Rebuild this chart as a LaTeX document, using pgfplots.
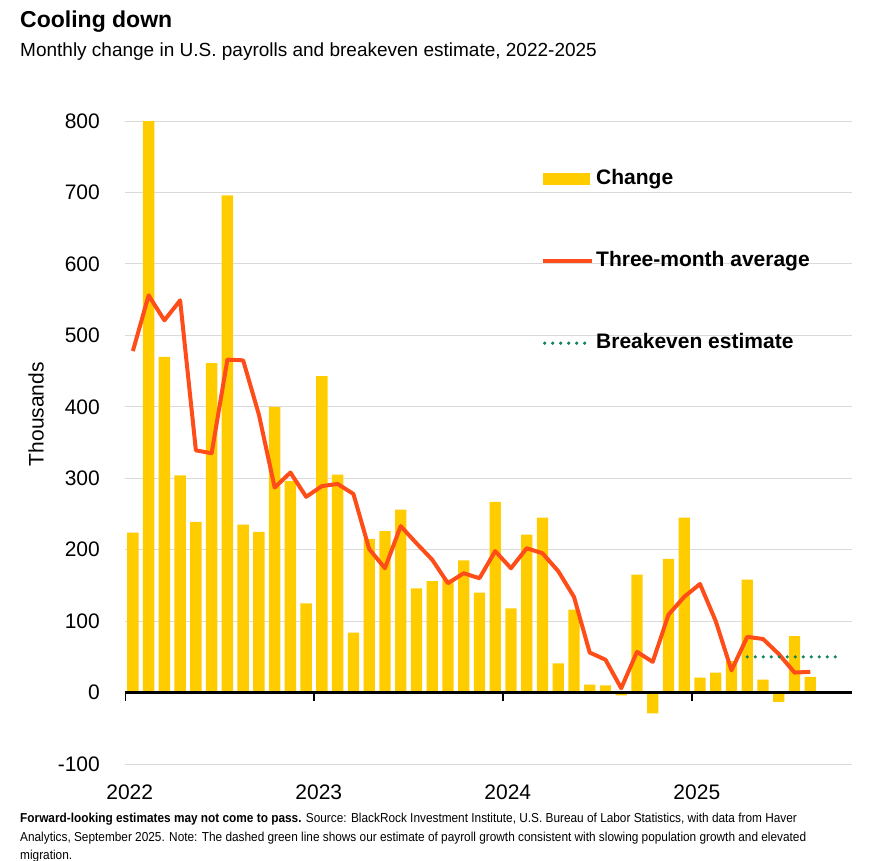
\documentclass[border=0pt]{standalone}
\usepackage{pgfplots}
\pgfplotsset{compat=1.18}
\usepackage{fontspec}
\setmainfont{Liberation Sans}
\newfontfamily\narrowfont[FakeStretch=0.91]{Liberation Sans}

\definecolor{barY}{RGB}{255,204,0}
\definecolor{lineO}{RGB}{255,77,26}
\definecolor{dotG}{RGB}{16,133,92}
\definecolor{gridG}{RGB}{218,218,218}

\begin{document}
\begin{tikzpicture}
\path[use as bounding box] (0,0) rectangle (871bp,-861bp);

% titles
\node[anchor=base west, inner sep=0pt, font=\bfseries\fontsize{23bp}{23bp}\selectfont] at (20bp,-27.5bp) {Cooling down};
\node[anchor=base west, inner sep=0pt, font=\fontsize{19bp}{19bp}\selectfont] at (20bp,-56.5bp) {Monthly change in U.S. payrolls and breakeven estimate, 2022-2025};

\begin{axis}[
    at={(125bp,-764bp)}, anchor=south west,
    scale only axis,
    width=727bp, height=643bp,
    xmin=-0.5, xmax=45.65,
    ymin=-100, ymax=800,
    ytick distance=100,
    xtick={-0.2,11.8,23.8,35.8},
    xticklabels={2022,2023,2024,2025},
    axis line style={draw=none},
    tick style={draw=none},
    ymajorgrids=true,
    grid style={gridG, line width=1bp},
    /pgf/number format/assume math mode=true,
    ticklabel style={font=\fontsize{21bp}{21bp}\selectfont, inner sep=0pt},
    yticklabel style={anchor=east, xshift=-25bp},
    xticklabel style={anchor=north, yshift=-21bp},
    ylabel={Thousands},
    ylabel style={font=\fontsize{21bp}{21bp}\selectfont, at={(axis description cs:-0.1224,0.544)}, anchor=center, inner sep=0pt},
    legend style={
        at={(rel axis cs:0.5722,0.9253)}, anchor=north west,
        draw=none, fill=none, inner sep=0pt,
        row sep=62bp, column sep=2bp,
        font=\bfseries\fontsize{21bp}{21bp}\selectfont,
        nodes={text height=15bp, text depth=5bp, inner sep=0pt},
    },
    legend cell align={left},
]

% monthly change, Jan 2022 = 0
\addplot[ybar, bar width=0.72, fill=barY, draw=none,
    legend image code/.code={\fill[barY] (0bp,-6bp) rectangle (47bp,6bp);}]
coordinates {
    (0,224) (1,800) (2,470) (3,304) (4,239) (5,461) (6,696) (7,235)
    (8,225) (9,400) (10,296) (11,125) (12,443) (13,305) (14,84) (15,215)
    (16,226) (17,256) (18,146) (19,156) (20,158) (21,185) (22,140) (23,267)
    (24,118) (25,221) (26,245) (27,41) (28,116) (29,11) (30,10) (31,-4)
    (32,165) (33,-29) (34,187) (35,245) (36,21) (37,28) (38,44) (39,158)
    (40,18) (41,-13) (42,79) (43,22)
};

% three-month average
\addplot[lineO, line width=4bp, line join=round, no marks,
    legend image code/.code={\draw[lineO, line width=4bp] (0bp,0bp) -- (49bp,0bp);}]
coordinates {
    (0,478) (1,556) (2,521) (3,549) (4,339) (5,335) (6,466) (7,465)
    (8,389) (9,287) (10,308) (11,274) (12,289) (13,292) (14,278) (15,201)
    (16,174) (17,233) (18,209) (19,186) (20,153) (21,167) (22,160) (23,198)
    (24,174) (25,202) (26,195) (27,170) (28,134) (29,56) (30,46) (31,6)
    (32,57) (33,43) (34,109) (35,134) (36,152) (37,100) (38,31) (39,78)
    (40,75) (41,54) (42,28) (43,29)
};

% breakeven estimate
\addplot[dotG, line width=3.6bp, line cap=round, dash pattern=on 0pt off 8bp,
    legend image code/.code={\draw[dotG, line width=3.6bp, line cap=round, dash pattern=on 0pt off 8bp] (1.5bp,0bp) -- (44bp,0bp);}]
coordinates {(39,50) (44.8,50)};

\legend{Change, Three-month average, Breakeven estimate}

% zero line and year ticks
\draw[black, line width=3bp] (axis cs:-0.5,0) -- (axis cs:45.65,0);
\pgfplotsinvokeforeach{-0.5,11.5,23.5,35.5}{
    \draw[black, line width=2.5bp] (axis cs:#1,0) -- ([yshift=-8bp]axis cs:#1,0);
}
\end{axis}

% note
\node[anchor=base west, inner sep=0pt, font=\narrowfont\fontsize{13bp}{13bp}\selectfont] at (20bp,-822bp)
    {\textbf{Forward-looking estimates may not come to pass.} Source: BlackRock Investment Institute, U.S. Bureau of Labor Statistics, with data from Haver};
\node[anchor=base west, inner sep=0pt, font=\narrowfont\fontsize{13bp}{13bp}\selectfont] at (20bp,-841bp)
    {Analytics, September 2025. Note: The dashed green line shows our estimate of payroll growth consistent with slowing population growth and elevated};
\node[anchor=base west, inner sep=0pt, font=\narrowfont\fontsize{13bp}{13bp}\selectfont] at (20bp,-859bp)
    {migration.};
\end{tikzpicture}
\end{document}
